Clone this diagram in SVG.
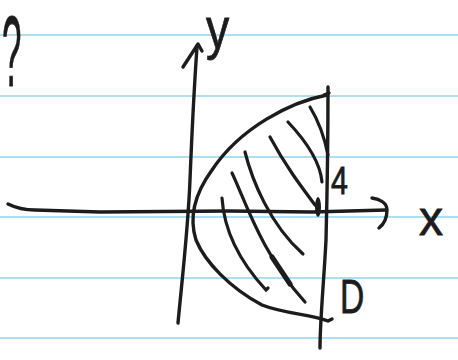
<svg xmlns="http://www.w3.org/2000/svg" width="458" height="360" viewBox="0 0 458 360">
<style>
.rule{stroke:#8fd4ec;stroke-width:1.6;fill:none}
.ink{stroke:#1c1c1c;stroke-width:3.4;fill:none;stroke-linecap:round;stroke-linejoin:round}
.hatch{stroke:#1c1c1c;stroke-width:3.2;fill:none;stroke-linecap:round}
.lbl{font-family:"Liberation Sans","DejaVu Sans",sans-serif;fill:#1c1c1c;stroke:#1c1c1c;stroke-width:0.8}
</style>
<rect width="458" height="360" fill="#ffffff"/>
<g id="paper">
<line class="rule" x1="0" y1="35" x2="458" y2="35"/>
<line class="rule" x1="0" y1="96" x2="458" y2="96"/>
<line class="rule" x1="0" y1="157" x2="458" y2="157"/>
<line class="rule" x1="0" y1="217" x2="458" y2="217"/>
<line class="rule" x1="0" y1="278" x2="458" y2="278"/>
<line class="rule" x1="0" y1="338" x2="458" y2="338"/>
</g>
<g id="axes">
<path class="ink" d="M178,323 C182,280 188,230 190,180 C192,130 194,90 197,47"/>
<path class="ink" d="M183,67 L198,44 L202,51"/>
<path class="ink" d="M8,204 C14,207 22,210 35,210 L100,212 L229,211 L312,212 L386,210"/>
<path class="ink" d="M372,198 C380,199 387,203 387,210 C387,218 384,224 379,228"/>
</g>
<g id="region">
<path class="ink" d="M328,87 C328,130 327,200 326,240 C324,280 320,320 320,348"/>
<path class="ink" d="M324,95 L329,93 M327,95 C290,102 240,128 212,170 C196,192 188,215 196,240 C205,262 230,288 262,305 C285,314 310,314 328,321 L332,319"/>
</g>
<g id="hatching">
<path class="hatch" d="M222,198 C224,230 240,262 266,290 L268,288"/>
<path class="hatch" d="M232,173 C245,200 262,255 305,302"/>
<path class="hatch" d="M272,257 L290,284" style="stroke-width:5"/>
<path class="hatch" d="M245,152 C252,180 270,225 303,254"/>
<path class="hatch" d="M270,137 C285,165 300,185 315,205"/>
<path class="hatch" d="M288,122 C305,140 320,160 322,182"/>
<path class="hatch" d="M310,107 C318,120 324,135 328,155"/>
<ellipse cx="318" cy="207" rx="3" ry="10" fill="#1c1c1c"/>
</g>
<g id="labels">
<text class="lbl" transform="translate(206,48) scale(0.8,1)" font-size="58">y</text>
<text class="lbl" x="419" y="235" font-size="48">x</text>
<text class="lbl" transform="translate(331,194) scale(0.8,1)" font-size="38">4</text>
<text class="lbl" transform="translate(340,313) scale(0.7,1)" font-size="48">D</text>
<text class="lbl" transform="translate(2,86) scale(0.35,1)" font-size="100">?</text>
</g>
</svg>
